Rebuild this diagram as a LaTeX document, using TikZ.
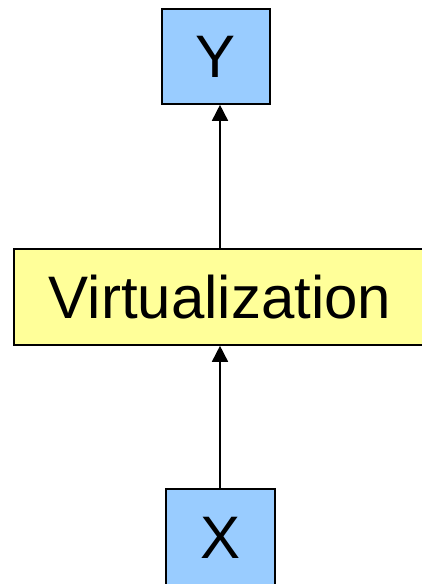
\documentclass[tikz,border=0pt]{standalone}
\usepackage{fontspec}
\setmainfont{Liberation Sans}
\usetikzlibrary{arrows.meta}
\definecolor{boxblue}{HTML}{99CCFF}
\definecolor{boxyellow}{HTML}{FFFF99}
\begin{document}
\begin{tikzpicture}[x=1pt,y=1pt,
  blk/.style={draw=black, line width=1.6pt, inner sep=0pt, font=\fontsize{60}{60}\selectfont},
  bluebox/.style={blk, fill=boxblue, minimum width=108pt, minimum height=95pt},
  yellowbox/.style={blk, fill=boxyellow, minimum width=412pt, minimum height=96pt},
  arr/.style={line width=1.6pt, -{Triangle[width=16pt,length=16pt]}}]
\useasboundingbox (0,0) rectangle (421,-584);
\node[bluebox] (y) at (216,-56.5) {Y};
\node[yellowbox] (v) at (220,-297) {Virtualization};
\node[bluebox, minimum width=109pt, minimum height=101pt] (x) at (220.5,-539.5) {\raisebox{3pt}{X}};
\draw[arr] (v.north) -- (v.north |- y.south);
\draw[arr] (x.north -| v.south) -- (v.south);
\end{tikzpicture}
\end{document}
